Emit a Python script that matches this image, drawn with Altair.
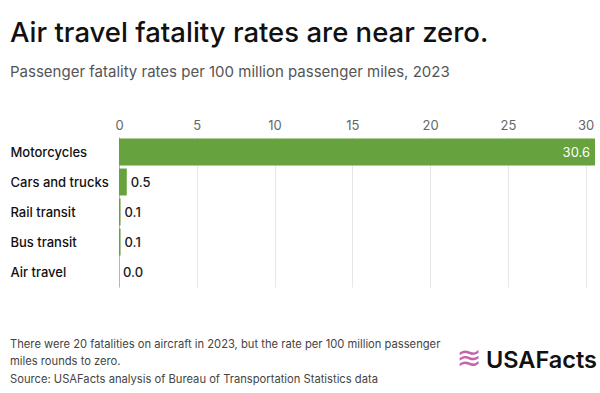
import altair as alt
import pandas as pd

# Passenger fatality rates per 100 million passenger miles, 2023
modes = ["Motorcycles", "Cars and trucks", "Rail transit", "Bus transit", "Air travel"]
rates = [30.6, 0.5, 0.1, 0.1, 0.0]
x_ticks = [0, 5, 10, 15, 20, 25, 30]

title_text = "Air travel fatality rates are near zero."
subtitle_text = "Passenger fatality rates per 100 million passenger miles, 2023"
note_lines = [
    "There were 20 fatalities on aircraft in 2023, but the rate per 100 million passenger",
    "miles rounds to zero.",
    "Source: USAFacts analysis of Bureau of Transportation Statistics data",
]
note_baselines = [211, 228, 246]

df = pd.DataFrame({"mode": modes, "rate": rates})
df["label"] = [f"{r:.1f}" for r in rates]
df["inside"] = df["rate"] > 10

FONT = "Inter"
GREEN = "#66a23d"

x_scale = alt.Scale(domain=[0, 30.6], nice=False)
y_enc = alt.Y(
    "mode:N",
    sort=modes,
    scale=alt.Scale(paddingInner=0.1, paddingOuter=0.05),
    axis=alt.Axis(
        title=None,
        orient="left",
        ticks=False,
        tickSize=0,
        labelAlign="left",
        labelPadding=109,
        labelFont=FONT,
        labelFontSize=13,
        labelFontWeight=500,
        labelColor="#111111",
        labelOffset=1,
        domain=True,
        domainColor="#b5b5b5",
        domainWidth=1,
    ),
)

base = alt.Chart(df)

bars = base.mark_bar(color=GREEN).encode(
    x=alt.X(
        "rate:Q",
        scale=x_scale,
        axis=alt.Axis(
            title=None,
            orient="top",
            values=x_ticks,
            domain=False,
            ticks=False,
            labelFlush=False,
            labelPadding=5,
            labelFont=FONT,
            labelFontSize=13,
            labelColor="#666666",
            gridColor="#e6e6e6",
            gridWidth=1,
        ),
    ),
    y=y_enc,
)

outside_labels = base.transform_filter("!datum.inside").mark_text(
    align="left", baseline="middle", dx=4, dy=1, font=FONT, fontSize=13, fontWeight=500,
    color="#1a1a1a",
).encode(x="rate:Q", y=alt.Y("mode:N", sort=modes), text="label:N")

inside_labels = base.transform_filter("datum.inside").mark_text(
    align="right", baseline="middle", dx=-5, dy=1, font=FONT, fontSize=13, color="white"
).encode(x="rate:Q", y=alt.Y("mode:N", sort=modes), text="label:N")


def free_text(text, x, y, size, color, weight=400, align="left", font=FONT):
    """A single text placed in pixels relative to the plot origin."""
    return alt.Chart(df.head(1)).mark_text(
        align=align, baseline="alphabetic", font=font, fontSize=size,
        fontWeight=weight, color=color,
    ).encode(x=alt.value(x), y=alt.value(y), text=alt.value(text))


title = free_text(title_text, -109, -95, 27.5, "#111111", weight=500)
subtitle = free_text(subtitle_text, -109, -60, 15, "#555555", weight=400)
notes = [free_text(t, -109, yb, 11.2, "#444444", weight=400) for t, yb in zip(note_lines, note_baselines)]

logo_icon = free_text("≋", 350, 231, 30, "#c565a8", align="center", font="DejaVu Sans")
logo_text = free_text("USAFacts", 478, 231, 23.5, "#111111", weight=600, align="right")

chart = (
    alt.layer(bars, outside_labels, inside_labels, title, subtitle, *notes, logo_icon, logo_text)
    .properties(
        width=476,
        height=150,
        padding={"left": 119, "top": 137, "right": 5, "bottom": 106},
        autosize=alt.AutoSizeParams(type="none"),
        background="white",
    )
    .configure_view(stroke=None)
)

chart.save("out.html", embed_options={"renderer": "svg", "actions": False})
